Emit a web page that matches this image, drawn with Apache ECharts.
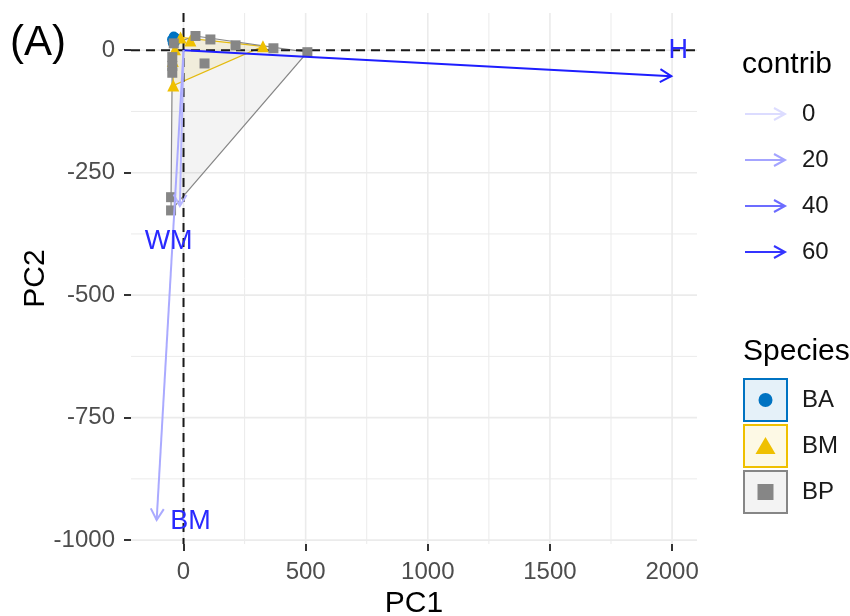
<!DOCTYPE html>
<html><head><meta charset="utf-8">
<script src="https://cdn.jsdelivr.net/npm/echarts@6/dist/echarts.min.js"></script>
<style>html,body{margin:0;padding:0;background:#fff}#c{width:850px;height:616px}</style>
</head><body><div id="c"></div>
<script>
// ---- data ----
const xTicks = [0, 500, 1000, 1500, 2000];
const yTicks = [0, -250, -500, -750, -1000];
const xMinorGrid = [250, 750, 1250, 1750];
const yMinorGrid = [-125, -375, -625, -875];

const speciesNames = ['BA', 'BM', 'BP'];
const baPoints = [[-47,22],[-40,28],[-32,25],[-44,15],[-35,17],[-38,24]];
const bmPoints = [[-42,-72],[-44,-22],[-35,2],[-12,26],[28,20],[325,8]];
const bpPoints = [[-51,-300],[-51,-327],[-46,-14],[-46,-32],[-46,-46],[-40,14],[49,29],[110,22],[213,10],[368,4],[507,-4],[86,-27]];

const varNames = ['H', 'WM', 'BM'];
const varPC1 = [1997, -15, -110];
const varPC2 = [-53, -318, -959];
const varContrib = [68, 14, 18];
const varLabelPC1 = [2025, -61, 29];
const varLabelPC2 = [0, -390, -963];

const contribBreaks = [0, 20, 40, 60];

// ---- styling ----
const FONT = "'Liberation Sans', Arial, sans-serif";
const speciesColor = ['#0073C2', '#EFC000', '#868686'];
const speciesFill = ['rgba(0,115,194,0.1)', 'rgba(239,192,0,0.1)', 'rgba(134,134,134,0.1)'];
const speciesSymbol = ['circle', 'triangle', 'rect'];
const speciesSize = [10, 12, 10];
const groups = [baPoints, bmPoints, bpPoints];

function contribColor(v) {
  const c = Math.max(0, Math.min(255, Math.round(220 - 2.8 * v)));
  return 'rgb(' + c + ',' + c + ',255)';
}

function convexHull(pts) {
  const p = pts.slice().sort((a, b) => a[0] - b[0] || a[1] - b[1]);
  const cross = (o, a, b) => (a[0]-o[0])*(b[1]-o[1]) - (a[1]-o[1])*(b[0]-o[0]);
  const lower = [], upper = [];
  for (const q of p) { while (lower.length >= 2 && cross(lower[lower.length-2], lower[lower.length-1], q) <= 0) lower.pop(); lower.push(q); }
  for (let i = p.length - 1; i >= 0; i--) { const q = p[i]; while (upper.length >= 2 && cross(upper[upper.length-2], upper[upper.length-1], q) <= 0) upper.pop(); upper.push(q); }
  upper.pop(); lower.pop();
  return lower.concat(upper);
}

const chart = echarts.init(document.getElementById('c'), null, {renderer: 'canvas'});

const gridData = []
  .concat(xTicks.map(v => [v, 0]))
  .concat(xMinorGrid.map(v => [v, 1]))
  .concat(yTicks.map(v => [v, 2]))
  .concat(yMinorGrid.map(v => [v, 3]));

const series = [];

// grid lines
series.push({
  type: 'custom', silent: true, z: 1, data: gridData,
  renderItem: function (params, api) {
    const cs = params.coordSys;
    const v = api.value(0), kind = api.value(1);
    const w = (kind === 0 || kind === 2) ? 1.6 : 1;
    if (kind < 2) {
      const x = api.coord([v, 0])[0];
      return {type: 'line', shape: {x1: x, y1: cs.y, x2: x, y2: cs.y + cs.height}, style: {stroke: '#ebebeb', lineWidth: w}};
    } else {
      const y = api.coord([0, v])[1];
      return {type: 'line', shape: {x1: cs.x, y1: y, x2: cs.x + cs.width, y2: y}, style: {stroke: '#ebebeb', lineWidth: w}};
    }
  }
});

// hulls
groups.forEach(function (pts, gi) {
  const hull = convexHull(pts);
  series.push({
    type: 'custom', silent: true, z: 2, data: [[hull[0][0], hull[0][1]]],
    renderItem: function (params, api) {
      const poly = hull.map(h => api.coord(h));
      return {type: 'polygon', shape: {points: poly}, style: {fill: speciesFill[gi], stroke: speciesColor[gi], lineWidth: 1.2}};
    }
  });
});

// zero lines
series.push({
  type: 'custom', silent: true, z: 3, data: [[0, 0]],
  renderItem: function (params, api) {
    const cs = params.coordSys;
    const o = api.coord([0, 0]);
    const st = {stroke: '#1a1a1a', lineWidth: 2, lineDash: [9, 6]};
    return {type: 'group', children: [
      {type: 'line', shape: {x1: cs.x, y1: o[1], x2: cs.x + cs.width, y2: o[1]}, style: st},
      {type: 'line', shape: {x1: o[0], y1: cs.y, x2: o[0], y2: cs.y + cs.height}, style: st}
    ]};
  }
});

// points
groups.forEach(function (pts, gi) {
  series.push({
    type: 'scatter', name: speciesNames[gi], z: 4, data: pts,
    symbol: speciesSymbol[gi], symbolSize: speciesSize[gi],
    itemStyle: {color: speciesColor[gi], opacity: 1}
  });
});

// variable arrows
series.push({
  type: 'custom', silent: true, z: 5,
  data: varNames.map((n, i) => [varPC1[i], varPC2[i], varContrib[i]]),
  renderItem: function (params, api) {
    const o = api.coord([0, 0]);
    const t = api.coord([api.value(0), api.value(1)]);
    const ang = Math.atan2(t[1] - o[1], t[0] - o[0]);
    const L = 13, a = Math.PI / 6;
    const p1 = [t[0] - L * Math.cos(ang - a), t[1] - L * Math.sin(ang - a)];
    const p2 = [t[0] - L * Math.cos(ang + a), t[1] - L * Math.sin(ang + a)];
    const col = contribColor(api.value(2));
    return {type: 'group', children: [
      {type: 'line', shape: {x1: o[0], y1: o[1], x2: t[0], y2: t[1]}, style: {stroke: col, lineWidth: 2}},
      {type: 'polyline', shape: {points: [p1, t, p2]}, style: {stroke: col, lineWidth: 2, fill: null}}
    ]};
  }
});

// variable labels
series.push({
  type: 'custom', silent: true, z: 6,
  data: varNames.map((n, i) => [varLabelPC1[i], varLabelPC2[i], i]),
  renderItem: function (params, api) {
    const p = api.coord([api.value(0), api.value(1)]);
    return {type: 'text', x: p[0], y: p[1], style: {text: varNames[api.value(2)], fill: '#2a2aff', fontSize: 27, fontFamily: FONT, align: 'center', verticalAlign: 'middle'}};
  }
});

// legends (graphic)
const graphics = [];
graphics.push({type: 'text', left: 10, top: 22, style: {text: '(A)', fontSize: 42, fontFamily: FONT, fill: '#000'}});
graphics.push({type: 'text', x: 742, y: 65, style: {text: 'contrib', fontSize: 30, fontFamily: FONT, fill: '#000', verticalAlign: 'middle'}});
contribBreaks.forEach(function (b, i) {
  const y = 114 + i * 46;
  const col = contribColor(b);
  graphics.push({type: 'line', shape: {x1: 745, y1: y, x2: 785, y2: y}, style: {stroke: col, lineWidth: 2}});
  graphics.push({type: 'polyline', shape: {points: [[774, y - 6], [785, y], [774, y + 6]]}, style: {stroke: col, lineWidth: 2, fill: null}});
  graphics.push({type: 'text', x: 802, y: y, style: {text: String(b), fontSize: 24, fontFamily: FONT, fill: '#1a1a1a', verticalAlign: 'middle'}});
});
graphics.push({type: 'text', x: 743, y: 352, style: {text: 'Species', fontSize: 30, fontFamily: FONT, fill: '#000', verticalAlign: 'middle'}});
speciesNames.forEach(function (s, i) {
  const top = 379 + i * 46, cx = 765.5, cy = top + 21;
  graphics.push({type: 'rect', shape: {x: 744, y: top, width: 43, height: 42}, style: {fill: speciesFill[i], stroke: speciesColor[i], lineWidth: 2}});
  if (i === 0) graphics.push({type: 'circle', shape: {cx: cx, cy: cy, r: 7}, style: {fill: speciesColor[i]}});
  if (i === 1) graphics.push({type: 'polygon', shape: {points: [[cx, cy - 9], [cx + 10, cy + 8], [cx - 10, cy + 8]]}, style: {fill: speciesColor[i]}});
  if (i === 2) graphics.push({type: 'rect', shape: {x: cx - 8, y: cy - 8, width: 16, height: 16}, style: {fill: speciesColor[i]}});
  graphics.push({type: 'text', x: 802, y: cy, style: {text: s, fontSize: 24, fontFamily: FONT, fill: '#1a1a1a', verticalAlign: 'middle'}});
});

const plain = v => String(v);

chart.setOption({
  animation: false,
  backgroundColor: '#fff',
  textStyle: {fontFamily: FONT},
  grid: {left: 131, top: 13, width: 566, height: 531, containLabel: false, outerBoundsMode: 'none'},
  xAxis: {
    type: 'value', min: -215, max: 2102,
    axisLine: {show: true, onZero: false, lineStyle: {color: 'rgba(0,0,0,0)'}},
    splitLine: {show: false},
    axisTick: {show: true, customValues: xTicks, length: 7, lineStyle: {color: '#333333', width: 2}},
    axisLabel: {customValues: xTicks, formatter: plain, fontSize: 24, color: '#4d4d4d', margin: 16, fontFamily: FONT},
    name: 'PC1', nameLocation: 'middle', nameGap: 44,
    nameTextStyle: {fontSize: 30, color: '#000', fontFamily: FONT}
  },
  yAxis: {
    type: 'value', min: -1008, max: 76,
    axisLine: {show: true, onZero: false, lineStyle: {color: 'rgba(0,0,0,0)'}},
    splitLine: {show: false},
    axisTick: {show: true, customValues: yTicks, length: 7, lineStyle: {color: '#333333', width: 2}},
    axisLabel: {customValues: yTicks, formatter: plain, fontSize: 24, color: '#4d4d4d', margin: 16, fontFamily: FONT},
    name: 'PC2', nameLocation: 'middle', nameGap: 80, nameRotate: 90, nameMoveOverlap: false,
    nameTextStyle: {fontSize: 30, color: '#000', fontFamily: FONT}
  },
  series: series,
  graphic: graphics
});
</script>
</body></html>
